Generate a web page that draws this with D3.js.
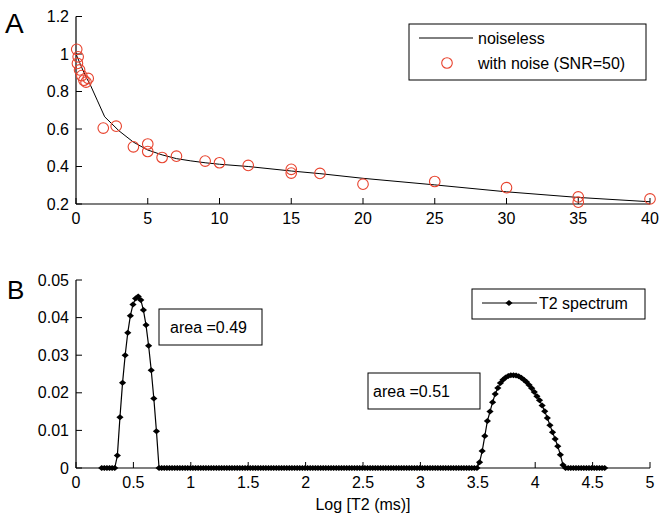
<!DOCTYPE html>
<html><head><meta charset="utf-8">
<script src="https://cdn.jsdelivr.net/npm/d3@7"></script>
<style>
html,body{margin:0;padding:0;background:#fff;}
svg text{font-family:"Liberation Sans",Arial,Helvetica,sans-serif;fill:#000;}
</style></head>
<body>
<svg id="c" width="663" height="522"></svg>
<script>
// ---------- Panel A data ----------
const curveT = [0, 0.25, 0.5, 0.75, 1, 1.5, 2, 3, 4, 5, 6, 7, 8, 9, 10, 12, 15, 17, 20, 25, 30, 35, 40];
const curveV = [1.0, 0.955, 0.91, 0.87, 0.835, 0.75, 0.665, 0.59, 0.53, 0.488, 0.462, 0.442, 0.43, 0.42, 0.412, 0.40, 0.376, 0.362, 0.337, 0.302, 0.265, 0.235, 0.212];
const noisyT = [0.05, 0.15, 0.1, 0.25, 0.4, 0.55, 0.85, 0.7, 1.9, 2.8, 4, 5, 5, 6, 7, 9, 10, 12, 15, 15, 17, 20, 25, 30, 35, 35, 40];
const noisyV = [1.025, 0.985, 0.95, 0.915, 0.885, 0.86, 0.87, 0.85, 0.605, 0.615, 0.505, 0.52, 0.48, 0.448, 0.455, 0.429, 0.42, 0.406, 0.385, 0.365, 0.363, 0.306, 0.32, 0.287, 0.238, 0.21, 0.227];
const xTicksA = [0, 5, 10, 15, 20, 25, 30, 35, 40];
const yTicksA = [0.2, 0.4, 0.6, 0.8, 1, 1.2];
const legendA = ["noiseless", "with noise (SNR=50)"];

// ---------- Panel B data ----------
// spectrum sampled on an evenly spaced log grid
const gridStart = 0.224, gridStep = 0.0227, gridCount = 194;
const peak1Start = 6;
const peak1 = [0.0033, 0.0135, 0.0227, 0.030, 0.036, 0.0405, 0.0435, 0.0451, 0.0456, 0.0447, 0.042, 0.038, 0.0325, 0.026, 0.0185, 0.0098];
const peak2Start = 145;
const peak2 = [0.0015, 0.0045, 0.0085, 0.0125, 0.0150, 0.0175, 0.0197, 0.0213, 0.0226, 0.0235, 0.0241, 0.0245, 0.0247, 0.0247, 0.0246, 0.0244, 0.0240, 0.0235, 0.0229, 0.0221, 0.0212, 0.0202, 0.0191, 0.0180, 0.0166, 0.0151, 0.0133, 0.0114, 0.0095, 0.0077, 0.0058, 0.0035, 0.0008];
const xTicksB = [0, 0.5, 1, 1.5, 2, 2.5, 3, 3.5, 4, 4.5, 5];
const yTicksB = [0, 0.01, 0.02, 0.03, 0.04, 0.05];
const areaLabels = ["area =0.49", "area =0.51"];
const legendB = "T2 spectrum";

const svg = d3.select("#c");
const FS = 16;
const red = "#e8432e";

function axes(g, x, y, xt, yt, xfmt, yfmt) {
  const x0 = x.range()[0], x1 = x.range()[1];
  const y0 = y.range()[0], y1 = y.range()[1];
  g.append("line").attr("x1", x0).attr("x2", x1).attr("y1", y0).attr("y2", y0).attr("stroke", "#000").attr("stroke-width", 1.2);
  g.append("line").attr("x1", x0).attr("x2", x0).attr("y1", y0).attr("y2", y1).attr("stroke", "#000").attr("stroke-width", 1.2);
  xt.forEach(v => {
    g.append("line").attr("x1", x(v)).attr("x2", x(v)).attr("y1", y0).attr("y2", y0 - 6).attr("stroke", "#000");
    g.append("text").attr("x", x(v)).attr("y", y0 + 20).attr("text-anchor", "middle").attr("font-size", FS).text(xfmt(v));
  });
  yt.forEach(v => {
    g.append("line").attr("x1", x0).attr("x2", x0 + 6).attr("y1", y(v)).attr("y2", y(v)).attr("stroke", "#000");
    g.append("text").attr("x", x0 - 7).attr("y", y(v)).attr("dy", "0.35em").attr("text-anchor", "end").attr("font-size", FS).text(yfmt(v));
  });
}
const fmt = v => String(+v.toFixed(3));

// ---------- Panel A ----------
const xA = d3.scaleLinear().domain([0, 40]).range([76, 650]);
const yA = d3.scaleLinear().domain([0.2, 1.2]).range([204, 16.5]);
const gA = svg.append("g");
axes(gA, xA, yA, xTicksA, yTicksA, fmt, fmt);
const lineA = d3.line().x((d, i) => xA(curveT[i])).y(d => yA(d));
gA.append("path").attr("d", lineA(curveV)).attr("fill", "none").attr("stroke", "#000").attr("stroke-width", 1);
gA.selectAll("circle.n").data(noisyV).enter().append("circle")
  .attr("cx", (d, i) => xA(noisyT[i])).attr("cy", d => yA(d)).attr("r", 5.3)
  .attr("fill", "none").attr("stroke", red).attr("stroke-width", 1.1);
svg.append("text").attr("x", 5).attr("y", 33).attr("font-size", 28).text("A");
// legend A
gA.append("rect").attr("x", 409).attr("y", 24).attr("width", 237).attr("height", 56).attr("fill", "#fff").attr("stroke", "#000").attr("stroke-width", 1);
gA.append("line").attr("x1", 419).attr("x2", 473).attr("y1", 38).attr("y2", 38).attr("stroke", "#000");
gA.append("text").attr("x", 478).attr("y", 44).attr("font-size", FS).text(legendA[0]);
gA.append("circle").attr("cx", 447).attr("cy", 63).attr("r", 5.3).attr("fill", "none").attr("stroke", red).attr("stroke-width", 1.1);
gA.append("text").attr("x", 478).attr("y", 69).attr("font-size", FS).text(legendA[1]);

// ---------- Panel B ----------
const xB = d3.scaleLinear().domain([0, 5]).range([76, 650]);
const yB = d3.scaleLinear().domain([0, 0.05]).range([468, 280]);
const gB = svg.append("g");
axes(gB, xB, yB, xTicksB, yTicksB, fmt, fmt);
const specX = d3.range(gridCount).map(i => gridStart + i * gridStep);
const specY = specX.map(() => 0);
peak1.forEach((v, i) => specY[peak1Start + i] = v);
peak2.forEach((v, i) => specY[peak2Start + i] = v);
const lineB = d3.line().x((d, i) => xB(specX[i])).y(d => yB(d));
gB.append("path").attr("d", lineB(specY)).attr("fill", "none").attr("stroke", "#000").attr("stroke-width", 1.2);
const mk = "M-3.6,0L0,-3L3.6,0L0,3Z";
gB.selectAll("path.m").data(specY).enter().append("path")
  .attr("transform", (d, i) => `translate(${xB(specX[i])},${yB(d)})`).attr("d", mk).attr("fill", "#000");
svg.append("text").attr("x", 7).attr("y", 299).attr("font-size", 26).text("B");
// area boxes
gB.append("rect").attr("x", 159).attr("y", 309).attr("width", 103).attr("height", 36).attr("fill", "#fff").attr("stroke", "#000");
gB.append("text").attr("x", 170).attr("y", 333).attr("font-size", FS).text(areaLabels[0]);
gB.append("rect").attr("x", 368).attr("y", 373).attr("width", 112).attr("height", 36).attr("fill", "#fff").attr("stroke", "#000");
gB.append("text").attr("x", 373).attr("y", 397).attr("font-size", FS).text(areaLabels[1]);
// legend B
gB.append("rect").attr("x", 472).attr("y", 289).attr("width", 173).attr("height", 30).attr("fill", "#fff").attr("stroke", "#000");
gB.append("line").attr("x1", 482).attr("x2", 537).attr("y1", 303).attr("y2", 303).attr("stroke", "#000");
gB.append("path").attr("transform", "translate(509,303)").attr("d", mk).attr("fill", "#000");
gB.append("text").attr("x", 539).attr("y", 309).attr("font-size", FS).text(legendB);
gB.append("text").attr("x", xB(2.5)).attr("y", 510).attr("text-anchor", "middle").attr("font-size", FS).text("Log [T2 (ms)]");
</script>
</body></html>
